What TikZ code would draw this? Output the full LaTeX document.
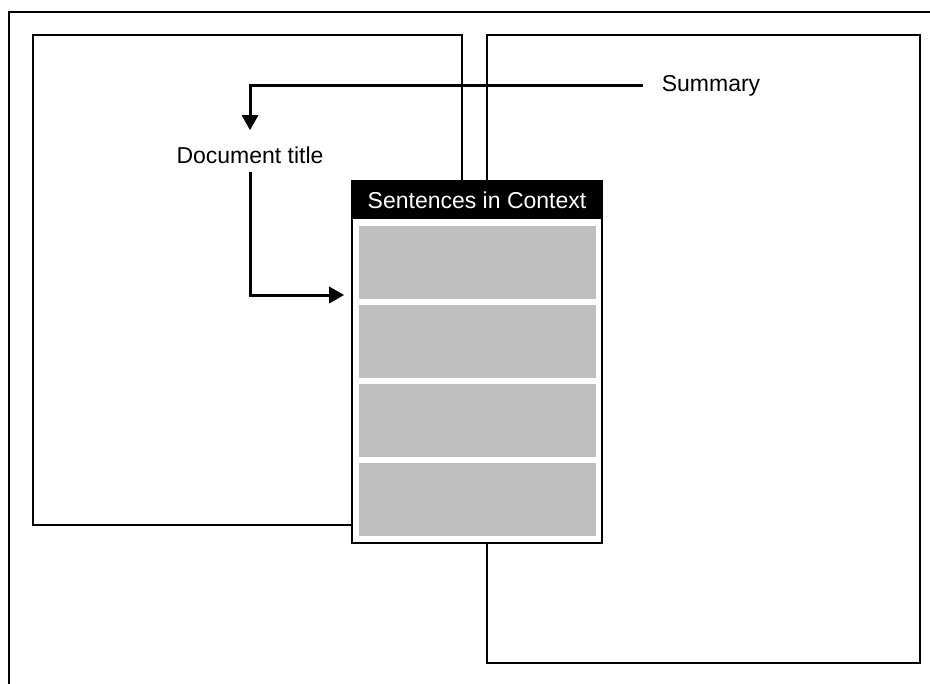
\documentclass[tikz,border=0pt]{standalone}
\usepackage{fontspec}
\setmainfont{Liberation Sans}
\usetikzlibrary{positioning,arrows.meta}

\begin{document}
\begin{tikzpicture}[x=0.5pt,y=-0.5pt,
  page/.style={draw,line width=0.8pt},
  caption/.style={font=\fontsize{11.5}{13}\selectfont,inner sep=2pt},
  panelbox/.style={draw,line width=0.8pt,fill=white,minimum width=125pt,minimum height=181pt,inner sep=0pt},
  header/.style={fill=black,text=white,font=\fontsize{11.5}{13}\selectfont,minimum width=125pt,minimum height=19pt,inner sep=0pt},
  slot/.style={fill=black!25,minimum width=118.5pt,minimum height=36.5pt,inner sep=0pt},
  pointer/.style={line width=1.5pt,-{Triangle[length=7.5pt,width=8pt]}}]
\useasboundingbox (0,0) rectangle (930,684);
% frame and the two pages
\draw[line width=1pt] (9,684) -- (9,12) -- (930,12);
\draw[page] (33,35) rectangle (462,525);
\draw[page] (487,35) rectangle (920,663);
% result panel
\node[panelbox] (panel) at (477,362) {};
\node[header] (head) at (477,200) {Sentences in Context};
\foreach \i in {0,...,3} {
  \node[slot] (S\i) at (477,262.5+79*\i) {};
}
\node[caption] (summary) at (711,86) {Summary};
\node[caption] (doctitle) at (250,155) {Document title};
\draw[pointer] ([xshift=-7pt]summary.west) -| ([yshift=6pt]doctitle.north);
\draw[pointer] ([yshift=-2pt]doctitle.south) |- ([xshift=-3.5pt,yshift=33.5pt]panel.west);
\end{tikzpicture}
\end{document}
